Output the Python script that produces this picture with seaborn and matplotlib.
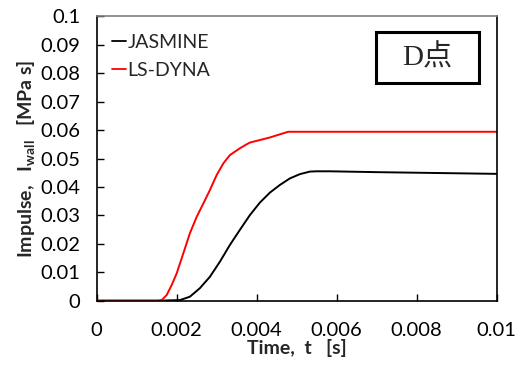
import numpy as np
import pandas as pd
import matplotlib
matplotlib.use("Agg")
import matplotlib.pyplot as plt
from matplotlib.patches import Rectangle
import seaborn as sns

# data
jas_t = [0.0, 0.0015, 0.00208, 0.00233, 0.00258, 0.00283, 0.00308, 0.00333, 0.00358,
         0.00383, 0.00408, 0.00433, 0.00458, 0.00483, 0.00508, 0.00533, 0.0055, 0.00583,
         0.0070, 0.0085, 0.0100]
jas_v = [0.0, 0.0, 0.0002, 0.0014, 0.0044, 0.0084, 0.0137, 0.0196, 0.0249,
         0.0301, 0.0345, 0.0380, 0.0407, 0.0430, 0.0445, 0.0454, 0.0455, 0.0455,
         0.0452, 0.0449, 0.0446]
dyna_t = [0.0, 0.0010, 0.00155, 0.001625, 0.00175, 0.001875, 0.0020, 0.002167, 0.00233,
          0.0025, 0.002667, 0.00283, 0.0030, 0.003167, 0.00333, 0.00358, 0.00375, 0.00383,
          0.00408, 0.00433, 0.00458, 0.00479, 0.0060, 0.0080, 0.0100]
dyna_v = [0.0, 0.0, 0.0, 0.0002, 0.0020, 0.0055, 0.0096, 0.0167, 0.0237,
          0.0295, 0.0342, 0.0389, 0.0442, 0.0483, 0.0512, 0.0536, 0.0550, 0.0556,
          0.0565, 0.0574, 0.0585, 0.0594, 0.0594, 0.0594, 0.0594]
series_names = ["JASMINE", "LS-DYNA"]
series_colors = ["#000000", "#ff0000"]
x_ticks = [0, 0.002, 0.004, 0.006, 0.008, 0.01]
x_ticklabels = ["0", "0.002", "0.004", "0.006", "0.008", "0.01"]
y_ticks = [0, 0.01, 0.02, 0.03, 0.04, 0.05, 0.06, 0.07, 0.08, 0.09, 0.1]
y_ticklabels = ["0", "0.01", "0.02", "0.03", "0.04", "0.05", "0.06", "0.07", "0.08", "0.09", "0.1"]
point_label = "D点"

df = pd.concat([
    pd.DataFrame({"t": jas_t, "I": jas_v, "series": series_names[0]}),
    pd.DataFrame({"t": dyna_t, "I": dyna_v, "series": series_names[1]}),
], ignore_index=True)

sns.set_style("ticks")
plt.rcParams["font.family"] = ["Lato", "DejaVu Sans"]
plt.rcParams["mathtext.fontset"] = "custom"
plt.rcParams["mathtext.rm"] = "Lato"
plt.rcParams["mathtext.bf"] = "Lato:bold"

fig = plt.figure(figsize=(5.19, 3.65), dpi=100)
ax = fig.add_axes([0.1863, 0.1762, 0.957 - 0.1863, 0.9553 - 0.1762])

sns.lineplot(data=df, x="t", y="I", hue="series", palette=dict(zip(series_names, series_colors)),
             linewidth=1.4, ax=ax, estimator=None, sort=False)

ax.set_xlim(0, 0.01)
ax.set_ylim(0, 0.1)
ax.set_xticks(x_ticks)
ax.set_xticklabels(x_ticklabels)
ax.set_yticks(y_ticks)
ax.set_yticklabels(y_ticklabels)
ax.tick_params(direction="in", length=5, width=1, labelsize=14.5, colors="black")
ax.tick_params(axis="x", pad=15)
ax.tick_params(axis="y", pad=12)
for s in ["left", "bottom", "right"]:
    ax.spines[s].set_color("black")
    ax.spines[s].set_linewidth(1.2)
ax.spines["top"].set_color("#808080")
ax.spines["top"].set_linewidth(1.2)

ax.set_xlabel("Time,  t   [s]", fontsize=14, fontweight="bold", labelpad=0)
ax.set_ylabel(r"Impulse,   $\mathbf{I_{wall}}$   [MPa s]", fontsize=14, fontweight="bold", labelpad=2)

leg = ax.legend(loc="upper left", frameon=False, fontsize=14, handlelength=0.7,
                handletextpad=0.08, labelspacing=0.55, borderaxespad=0.0,
                bbox_to_anchor=(0.02, 0.965))
for line in leg.get_lines():
    line.set_linewidth(1.3)

ax.add_patch(Rectangle((0.698, 0.764), 0.258, 0.18, transform=ax.transAxes,
                       facecolor="white", edgecolor="black", linewidth=2.2, zorder=5))
ax.text(0.827, 0.853, point_label, transform=ax.transAxes, ha="center", va="center",
        fontsize=21, family=["Liberation Serif", "Noto Sans CJK JP"], zorder=6)

fig.savefig("out.png", dpi=100)
